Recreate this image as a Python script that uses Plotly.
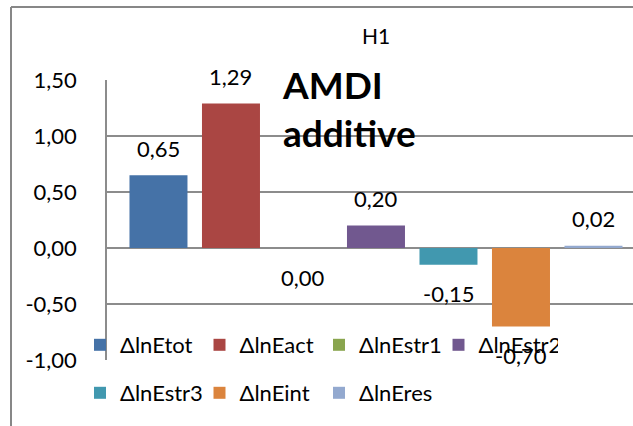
import plotly.graph_objects as go

series_names = ["ΔlnEtot", "ΔlnEact", "ΔlnEstr1", "ΔlnEstr2", "ΔlnEstr3", "ΔlnEint", "ΔlnEres"]
values = [0.65, 1.29, 0.00, 0.20, -0.15, -0.70, 0.02]
colors = ["#4572A7", "#AA4643", "#89A54E", "#71588F", "#4198AF", "#DB843D", "#93A9CF"]
tick_vals = [-1.0, -0.5, 0.0, 0.5, 1.0, 1.5]
tick_text = ["-1,00", "-0,50", "0,00", "0,50", "1,00", "1,50"]
title_text = "H1"
note_text = "AMDI<br>additive"

FONT = "Lato"
GRID = "#8c8c8c"

fig = go.Figure()
for i, (name, v, c) in enumerate(zip(series_names, values, colors)):
    fig.add_trace(go.Bar(
        x=[name], y=[v], name=name, marker=dict(color=c, line=dict(width=0)),
        legend="legend" if i < 4 else "legend2", hoverinfo="skip",
    ))

for name, v in zip(series_names, values):
    fig.add_annotation(
        x=name, y=v, xref="x", yref="y", text=f"{v:.2f}".replace(".", ","),
        showarrow=False, yshift=27 if v > 0 else -29,
        font=dict(family=FONT, size=22, color="#000000"),
    )

fig.add_annotation(
    x=0.329, y=0.90, xref="paper", yref="paper", text=note_text, showarrow=False,
    xanchor="left", yanchor="middle", align="left",
    font=dict(family=FONT, size=37, color="#000000", weight="bold"),
)

# outer chart border (left and top)
fig.add_shape(type="line", xref="paper", yref="paper", x0=-0.1825, x1=-0.1825, y0=-0.25, y1=1.2607,
              line=dict(color="#878787", width=2))
fig.add_shape(type="line", xref="paper", yref="paper", x0=-0.1825, x1=1.01, y0=1.2607, y1=1.2607,
              line=dict(color="#878787", width=2))

legend_common = dict(
    orientation="h", xanchor="left", bgcolor="rgba(0,0,0,0)",
    font=dict(family=FONT, size=22, color="#000000"), entrywidth=74.5, entrywidthmode="pixels",
    traceorder="normal", itemclick=False, itemdoubleclick=False,
)

fig.update_layout(
    width=633, height=426,
    margin=dict(l=107, r=0, t=80, b=66),
    paper_bgcolor="white", plot_bgcolor="white",
    barmode="relative", bargap=0.2,
    font=dict(family=FONT, size=22, color="#000000"),
    title=dict(text=title_text, x=376/633, xanchor="center", y=1-37/426, yanchor="middle",
               font=dict(family=FONT, size=21, color="#000000")),
    xaxis=dict(type="category", range=[-0.71, 6.545], showticklabels=False, showgrid=False,
               zeroline=False, showline=False, fixedrange=True),
    yaxis=dict(range=[-1.0, 1.5], tickvals=tick_vals, ticktext=tick_text, showgrid=True,
               gridcolor=GRID, gridwidth=1.5, zeroline=True, zerolinecolor=GRID, zerolinewidth=1.5,
               showline=True, linecolor=GRID, linewidth=1.5, ticks="", ticklabelstandoff=24,
               tickfont=dict(family=FONT, size=22, color="#000000"), fixedrange=True),
    legend=dict(x=(80-107)/526, y=(360-366)/280, yanchor="bottom", **legend_common),
    legend2=dict(x=(80-107)/526, y=(360-393)/280, yanchor="middle", **legend_common),
    showlegend=True,
)

fig.write_html("out.html")
